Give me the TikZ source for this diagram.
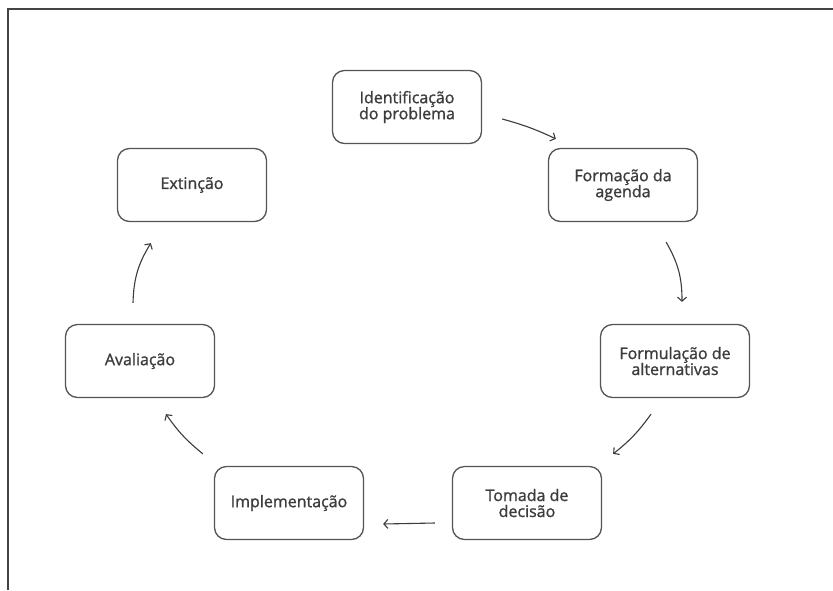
\documentclass[tikz,border=0pt]{standalone}
\usepackage{fontspec}
\setmainfont{Open Sans}
\usepackage{tikz}
\usetikzlibrary{arrows.meta,calc,positioning}
\definecolor{boxgray}{HTML}{555555}
\definecolor{textgray}{HTML}{3C3C3C}
\definecolor{framegray}{HTML}{444444}
\tikzset{
  stage/.style={draw=boxgray, line width=1.3pt, rounded corners=12pt, minimum width=149pt, minimum height=73pt, inner sep=0pt, align=center, text=textgray, font=\fontsize{16}{16}\selectfont\addfontfeature{FakeBold=1.2}},
  flow/.style={draw=textgray, line width=1.1pt, -{Straight Barb[length=4pt,width=9pt,line width=1.1pt]}}
}
\begin{document}
\begin{tikzpicture}[x=1pt,y=1pt]
\useasboundingbox (0,0) rectangle (833,-590);
\fill[white] (0,0) rectangle (833,-590);
\draw[framegray, line width=2pt] (8,-590) -- (8,-9) -- (833,-9);
\node[stage] (ident) at (407,-107) {Identificação\\do problema};
\node[stage] (agenda) at (623,-185) {Formação da\\agenda};
\node[stage] (formul) at (675,-361) {Formulação de\\alternativas};
\node[stage] (tomada) at (527,-503) {Tomada de\\decisão};
\node[stage] (implem) at (289,-503) {Implementação};
\node[stage] (aval) at (140,-361) {Avaliação};
\node[stage] (extin) at (192,-185) {Extinção};
\draw[flow] ($(ident.east)+(20,-12)$) to[bend left=5] ($(agenda.north west)+(8,9)$);
\draw[flow] ($(agenda.south east)+(-32,-20)$) to[bend left=15] ($(formul.north)+(7,22)$);
\draw[flow] ($(formul.south)+(-24,-16)$) to[bend left=8] ($(tomada.north east)+(11,12)$);
\draw[flow] ($(tomada.west)+(-17,-20)$) to ($(implem.east)+(19,-21)$);
\draw[flow] ($(implem.north west)+(-11,12)$) to[bend left=8] ($(aval.south)+(26,-16)$);
\draw[flow] ($(aval.north)+(-7,21)$) to[bend left=15] ($(extin.south west)+(34,-21)$);
\end{tikzpicture}
\end{document}
